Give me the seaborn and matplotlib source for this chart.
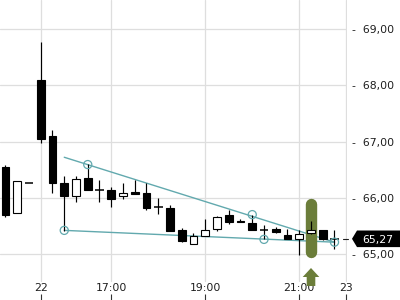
import matplotlib
matplotlib.use("Agg")
import matplotlib.pyplot as plt
import seaborn as sns
import pandas as pd
from matplotlib.patches import Polygon
from matplotlib.transforms import blended_transform_factory

sns.set_theme(style="white")
plt.rcParams["font.family"] = ["DejaVu Sans"]

# ---- data (15-minute candles) ----
opens  = [66.54, 65.72, 66.26, 68.09, 67.10, 66.27, 66.04, 66.35, 66.13, 66.14,
          66.03, 66.10, 66.08, 65.84, 65.81, 65.42, 65.17, 65.32, 65.44, 65.69,
          65.59, 65.55, 65.43, 65.44, 65.34, 65.27, 65.37, 65.42, 65.27]
highs  = [66.58, 66.29, 66.26, 68.77, 67.20, 66.39, 66.39, 66.60, 66.32, 66.19,
          66.27, 66.32, 66.26, 66.00, 65.87, 65.46, 65.37, 65.63, 65.68, 65.79,
          65.63, 65.69, 65.52, 65.48, 65.45, 65.43, 65.58, 65.42, 65.43]
lows   = [65.66, 65.72, 66.26, 66.97, 66.08, 65.41, 65.93, 66.13, 65.93, 65.84,
          65.97, 66.07, 65.79, 65.71, 65.41, 65.21, 65.17, 65.32, 65.40, 65.54,
          65.56, 65.42, 65.26, 65.38, 65.27, 64.99, 65.36, 65.25, 65.08]
closes = [65.70, 66.29, 66.26, 67.04, 66.27, 66.04, 66.33, 66.13, 66.13, 65.98,
          66.08, 66.07, 65.81, 65.84, 65.41, 65.23, 65.32, 65.43, 65.66, 65.57,
          65.56, 65.43, 65.43, 65.39, 65.27, 65.35, 65.42, 65.27, 65.27]

x_tick_pos = [3, 9, 17, 25, 29]
x_tick_labels = ["22", "17:00", "19:00", "21:00", "23"]
y_ticks = [65, 66, 67, 68, 69]
y_tick_labels = ["65,00", "66,00", "67,00", "68,00", "69,00"]

upper_trend_x = [5, 28]
upper_trend_y = [66.72, 65.21]
lower_trend_x = [5, 28]
lower_trend_y = [65.42, 65.21]
pivot_x = [5, 7, 21, 22, 28]
pivot_y = [65.42, 66.59, 65.70, 65.26, 65.21]

highlight_index = 26
last_price = 65.27
last_price_label = "65,27"

df = pd.DataFrame({"i": range(len(opens)), "open": opens, "high": highs,
                   "low": lows, "close": closes})

TEAL = "#62a9ae"
OLIVE = "#6b7d3a"
GRID = "#dedede"
TXT = "#1e1e1e"

fig = plt.figure(figsize=(4, 3), dpi=100)
ax = fig.add_axes([0, 0, 347 / 400, 1])
ax.set_facecolor("white")
ax.set_xlim(-0.468, 29.064)
ax.set_ylim(64.182, 69.516)
for s in ax.spines.values():
    s.set_visible(False)

# grid
for y in y_ticks:
    ax.axhline(y, color=GRID, lw=0.9, zorder=0)
for x in x_tick_pos:
    ax.axvline(x, ymin=0.062, ymax=1, color=GRID, lw=0.9, zorder=0)

# trend lines and pivots
sns.lineplot(x=upper_trend_x, y=upper_trend_y, color=TEAL, lw=1.0, ax=ax, zorder=2)
sns.lineplot(x=lower_trend_x, y=lower_trend_y, color=TEAL, lw=1.0, ax=ax, zorder=2)

# highlight bar
hb_top, hb_bot = 65.89, 65.04
ax.plot([highlight_index, highlight_index], [hb_top, hb_bot], color=OLIVE,
        lw=8.2, solid_capstyle="round", zorder=3)

# candles
body_w = 0.68
for _, r in df.iterrows():
    ax.vlines(r["i"], r["low"], r["high"], color="black", lw=0.85, zorder=4)
    if abs(r["close"] - r["open"]) < 1e-9:
        ax.hlines(r["close"], r["i"] - 0.38, r["i"] + 0.38, color="black",
                  lw=1.1, zorder=5)
    else:
        up = r["close"] > r["open"]
        ax.bar(r["i"], abs(r["close"] - r["open"]), bottom=min(r["open"], r["close"]),
               width=body_w, color="white" if up else "black",
               edgecolor="black", linewidth=0.8, zorder=5)

sns.scatterplot(x=pivot_x, y=pivot_y, s=34, marker="o", facecolor="none",
                edgecolor=TEAL, linewidth=0.9, ax=ax, zorder=6)

# arrow below highlight
tr = blended_transform_factory(ax.transData, ax.transAxes)
hw, sw = 0.706, 0.366
cx = highlight_index
arrow = Polygon([(cx, 1 - 268 / 300), (cx + hw, 1 - 277 / 300), (cx + sw, 1 - 277 / 300),
                 (cx + sw, 1 - 286 / 300), (cx - sw, 1 - 286 / 300), (cx - sw, 1 - 277 / 300),
                 (cx - hw, 1 - 277 / 300)], closed=True, facecolor=OLIVE,
                edgecolor="none", transform=tr, clip_on=False, zorder=7)
ax.add_patch(arrow)

# x tick marks and labels
ax.set_xticks(x_tick_pos)
ax.set_xticklabels([])
ax.tick_params(axis="x", direction="in", length=4.5, width=0.8, color="#333333",
               bottom=True)
for x, lab in zip(x_tick_pos, x_tick_labels):
    ax.text(x, 1 - 290.7 / 300, lab, transform=tr, ha="center", va="baseline",
            fontsize=7.8, color=TXT, zorder=6)

# y ticks on right
ax.yaxis.tick_right()
ax.set_yticks(y_ticks)
ax.set_yticklabels(["-  " + t for t in y_tick_labels])
ax.tick_params(axis="y", length=0, pad=3.7, labelsize=7.8, labelcolor=TXT)
ax.set_xlabel("")
ax.set_ylabel("")

# last price marker + tag
ax.plot([28.72, 29.15], [last_price, last_price], color=TXT, lw=0.8,
        clip_on=False, zorder=6)
tf = blended_transform_factory(fig.transFigure, ax.transData)
hh = 8.3 / 56.25
tag = Polygon([(352 / 400, last_price), (357 / 400, last_price + hh), (1.0, last_price + hh),
               (1.0, last_price - hh), (357 / 400, last_price - hh)], closed=True,
              facecolor="black", edgecolor="none", transform=tf, clip_on=False, zorder=7)
ax.add_patch(tag)
ax.text(362.5 / 400, last_price, last_price_label, transform=tf, ha="left",
        va="center_baseline", fontsize=7.8, color="white", zorder=8)

fig.savefig("out.png", dpi=100)
